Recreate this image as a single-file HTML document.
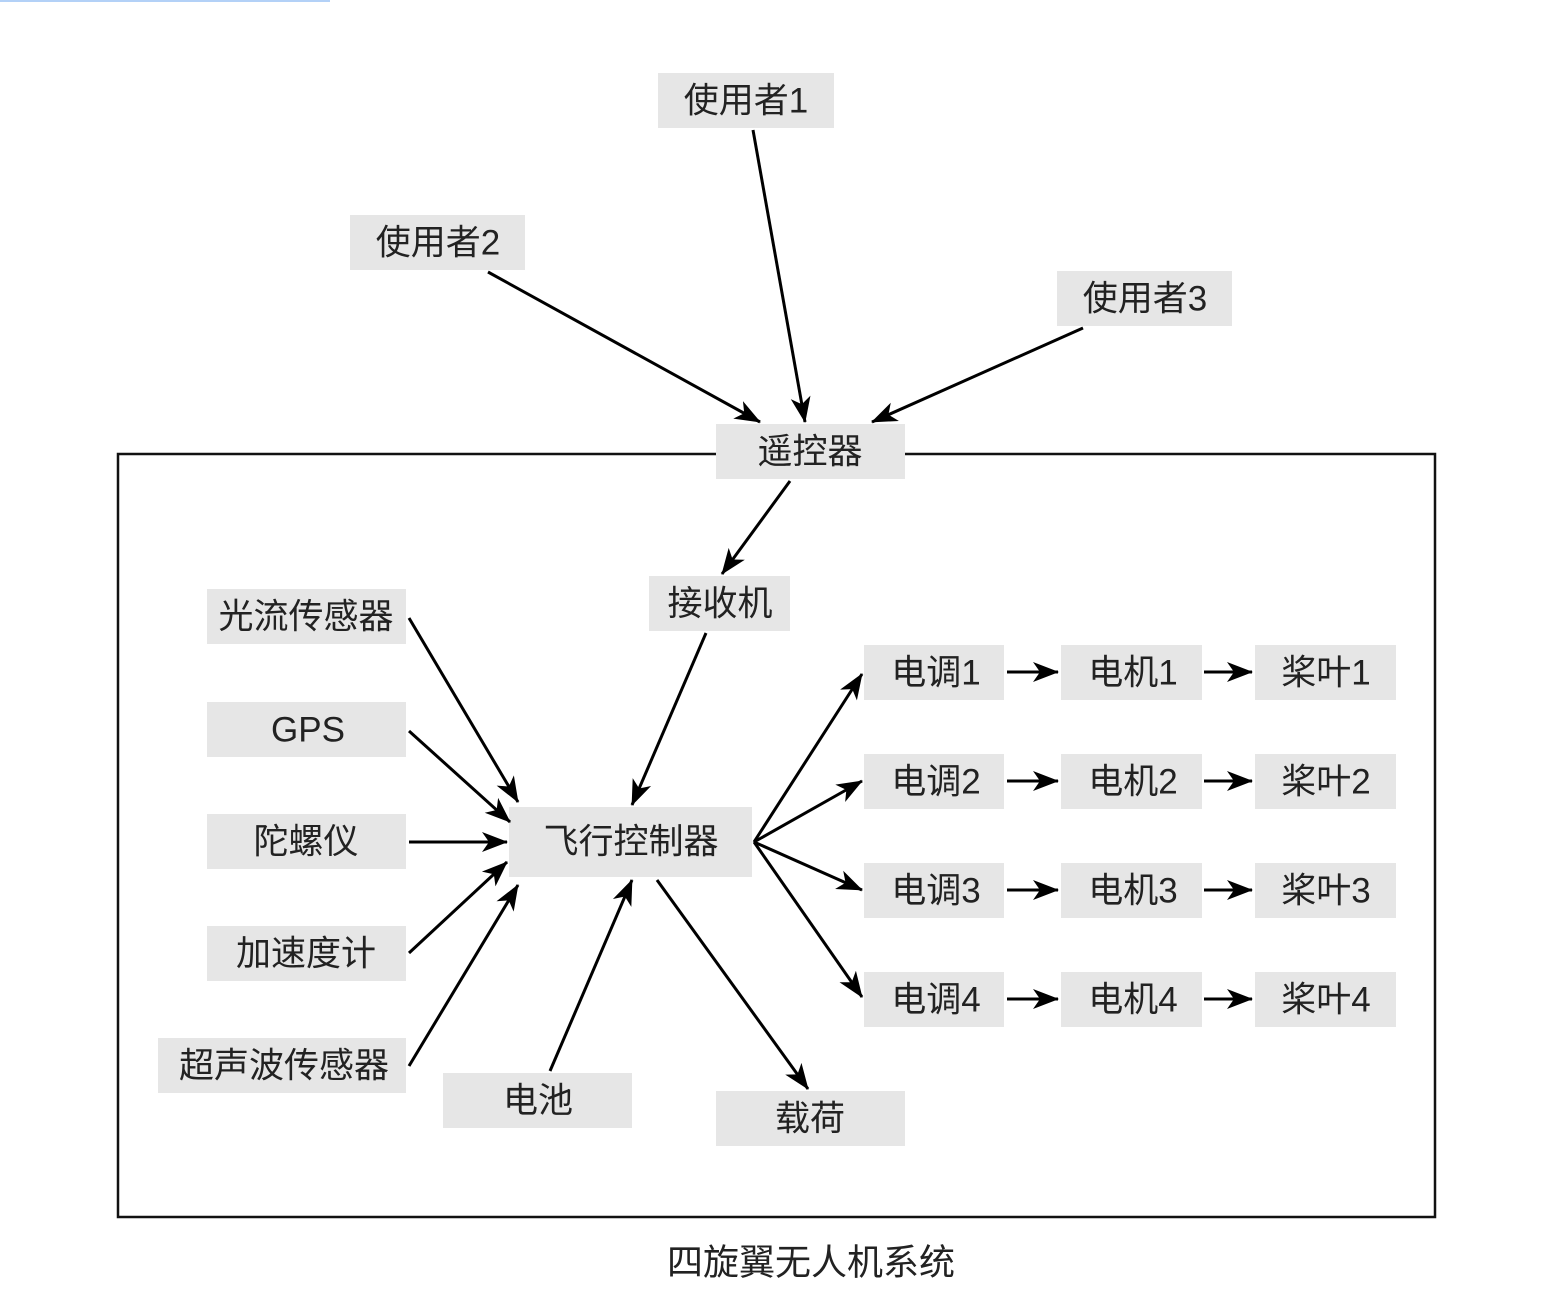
<!DOCTYPE html>
<html><head><meta charset="utf-8"><style>
html,body{margin:0;padding:0;background:#fff;}
svg{display:block;}
text{font-family:"Liberation Sans","Noto Sans CJK SC",sans-serif;font-size:35px;fill:#222;text-anchor:middle;dominant-baseline:central;}
</style></head><body>
<svg width="1566" height="1312" viewBox="0 0 1566 1312" xmlns="http://www.w3.org/2000/svg">
<defs>
<marker id="a" markerWidth="28" markerHeight="22" refX="25" refY="11" orient="auto" markerUnits="userSpaceOnUse">
<path d="M0,1 L26,11 L0,21 L7,11 Z" fill="#000"/>
</marker>
</defs>
<rect x="0" y="0" width="330" height="2" fill="#b3d1f7"/>
<rect x="118" y="454" width="1317" height="763" fill="none" stroke="#111" stroke-width="2.5"/>
<g fill="#e6e6e6">
<rect x="658" y="73" width="176" height="55"/>
<rect x="350" y="215" width="175" height="55"/>
<rect x="1057" y="271" width="175" height="55"/>
<rect x="716" y="424" width="189" height="55"/>
<rect x="649" y="576" width="141" height="55"/>
<rect x="207" y="589" width="199" height="55"/>
<rect x="207" y="702" width="199" height="55"/>
<rect x="207" y="814" width="199" height="55"/>
<rect x="207" y="926" width="199" height="55"/>
<rect x="158" y="1038" width="248" height="55"/>
<rect x="509" y="807" width="243" height="70"/>
<rect x="443" y="1073" width="189" height="55"/>
<rect x="716" y="1091" width="189" height="55"/>
<rect x="864" y="645" width="140" height="55"/><rect x="1061" y="645" width="141" height="55"/><rect x="1255" y="645" width="141" height="55"/>
<rect x="864" y="754" width="140" height="55"/><rect x="1061" y="754" width="141" height="55"/><rect x="1255" y="754" width="141" height="55"/>
<rect x="864" y="863" width="140" height="55"/><rect x="1061" y="863" width="141" height="55"/><rect x="1255" y="863" width="141" height="55"/>
<rect x="864" y="972" width="140" height="55"/><rect x="1061" y="972" width="141" height="55"/><rect x="1255" y="972" width="141" height="55"/>
</g>
<g stroke="#000" stroke-width="3" marker-end="url(#a)">
<line x1="753" y1="130" x2="805" y2="422"/>
<line x1="488" y1="272" x2="760" y2="422"/>
<line x1="1083" y1="328" x2="872" y2="422"/>
<line x1="790" y1="481" x2="722" y2="574"/>
<line x1="706" y1="633" x2="632" y2="805"/>
<line x1="409" y1="618" x2="518" y2="802"/>
<line x1="409" y1="731" x2="510" y2="822"/>
<line x1="409" y1="842" x2="507" y2="842"/>
<line x1="409" y1="953" x2="507" y2="862"/>
<line x1="409" y1="1066" x2="518" y2="885"/>
<line x1="550" y1="1071" x2="632" y2="880"/>
<line x1="657" y1="880" x2="808" y2="1089"/>
<line x1="754" y1="842" x2="862" y2="674"/>
<line x1="754" y1="842" x2="862" y2="781"/>
<line x1="754" y1="842" x2="862" y2="890"/>
<line x1="754" y1="842" x2="862" y2="997"/>
<line x1="1007" y1="672" x2="1058" y2="672"/><line x1="1204" y1="672" x2="1252" y2="672"/>
<line x1="1007" y1="781" x2="1058" y2="781"/><line x1="1204" y1="781" x2="1252" y2="781"/>
<line x1="1007" y1="890" x2="1058" y2="890"/><line x1="1204" y1="890" x2="1252" y2="890"/>
<line x1="1007" y1="999" x2="1058" y2="999"/><line x1="1204" y1="999" x2="1252" y2="999"/>
</g>
<text x="746" y="101">使用者1</text>
<text x="438" y="243">使用者2</text>
<text x="1145" y="299">使用者3</text>
<text x="810" y="452">遥控器</text>
<text x="720" y="604">接收机</text>
<text x="306" y="617">光流传感器</text>
<text x="308" y="730">GPS</text>
<text x="306" y="842">陀螺仪</text>
<text x="306" y="954">加速度计</text>
<text x="284" y="1066">超声波传感器</text>
<text x="631" y="842">飞行控制器</text>
<text x="538" y="1101">电池</text>
<text x="810" y="1119">载荷</text>
<text x="936" y="673">电调1</text><text x="1133" y="673">电机1</text><text x="1326" y="673">桨叶1</text>
<text x="936" y="782">电调2</text><text x="1133" y="782">电机2</text><text x="1326" y="782">桨叶2</text>
<text x="936" y="891">电调3</text><text x="1133" y="891">电机3</text><text x="1326" y="891">桨叶3</text>
<text x="936" y="1000">电调4</text><text x="1133" y="1000">电机4</text><text x="1326" y="1000">桨叶4</text>
<text x="811" y="1262" style="font-size:36px">四旋翼无人机系统</text>
</svg>
</body></html>
